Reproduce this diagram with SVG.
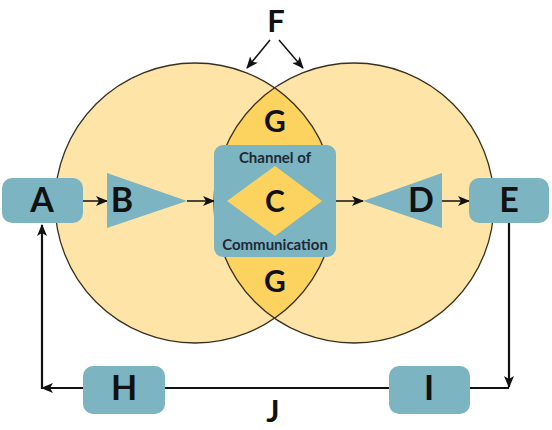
<svg xmlns="http://www.w3.org/2000/svg" width="552" height="430" viewBox="0 0 552 430">
<style>
.box{fill:#7db4c1}
.circ{fill:#fee5a7}
.lens{fill:#fcd35e}
.outline{fill:none;stroke:#3a3020;stroke-width:1.3}
.lbl{font-family:Lato,"Liberation Sans",sans-serif;font-weight:700;fill:#111;text-anchor:middle}
.big{font-size:34px}
.edge{font-size:31px}
.mid{font-size:30px}
.small{font-family:Lato,"Liberation Sans",sans-serif;font-weight:700;font-size:15px;fill:#1c2a38;text-anchor:middle}
.con{fill:none;stroke:#111;stroke-width:2.2}
.thin{fill:none;stroke:#111;stroke-width:1.5}
</style>
<defs>
<marker id="ah" viewBox="0 0 12 10" refX="11" refY="5" markerWidth="12" markerHeight="10" markerUnits="userSpaceOnUse" orient="auto">
<path d="M0,0 L12,5 L0,10 L3,5 z" fill="#111"/>
</marker>
</defs>
<g id="circles">
<circle class="circ" cx="195" cy="203" r="140"/>
<circle class="circ" cx="354" cy="203" r="140"/>
<path class="lens" d="M274.5,88 A140,140 0 0 1 274.5,318 A140,140 0 0 1 274.5,88 Z"/>
<circle class="outline" cx="195" cy="203" r="140"/>
<circle class="outline" cx="354" cy="203" r="140"/>
</g>
<g id="connectors">
<line class="thin" x1="270" y1="40" x2="247" y2="68" marker-end="url(#ah)"/>
<line class="thin" x1="279" y1="40" x2="303" y2="68" marker-end="url(#ah)"/>
<line class="thin" x1="83" y1="201" x2="107" y2="201" marker-end="url(#ah)"/>
<line class="thin" x1="187" y1="201" x2="214" y2="201" marker-end="url(#ah)"/>
<line class="thin" x1="336" y1="201" x2="363" y2="201" marker-end="url(#ah)"/>
<line class="thin" x1="442" y1="201" x2="469" y2="201" marker-end="url(#ah)"/>
<line class="con" x1="509" y1="223" x2="509" y2="387" marker-end="url(#ah)"/>
<polyline class="con" points="509,388 470,388"/>
<line class="con" x1="389" y1="388" x2="165" y2="388"/>
<polyline class="con" points="83,388 42,388" marker-end="url(#ah)"/>
<line class="con" x1="42" y1="389" x2="42" y2="225" marker-end="url(#ah)"/>
</g>
<g id="nodeF"><text class="lbl edge" x="276" y="32">F</text></g>
<g id="nodeG1"><text class="lbl mid" x="275" y="132">G</text></g>
<g id="nodeG2"><text class="lbl mid" x="275" y="292">G</text></g>
<g id="nodeA">
<rect class="box" x="2" y="178" width="81" height="45" rx="10"/>
<text class="lbl big" x="42" y="212">A</text>
</g>
<g id="nodeB">
<polygon class="box" points="107,173 187,201 107,228"/>
<text class="lbl big" x="122" y="212">B</text>
</g>
<g id="nodeC">
<rect class="box" x="214" y="145" width="122" height="112" rx="9"/>
<polygon class="lens" points="227,201 275,166 322,201 275,236"/>
<text class="small" x="275" y="163">Channel of</text>
<text class="small" x="275" y="250">Communication</text>
<text class="lbl mid" x="275" y="212">C</text>
</g>
<g id="nodeD">
<polygon class="box" points="442,173 363,201 442,228"/>
<text class="lbl big" x="421" y="212">D</text>
</g>
<g id="nodeE">
<rect class="box" x="469" y="178" width="80" height="45" rx="10"/>
<text class="lbl big" x="509" y="212">E</text>
</g>
<g id="nodeH">
<rect class="box" x="83" y="366" width="82" height="48" rx="10"/>
<text class="lbl big" x="124" y="400">H</text>
</g>
<g id="nodeI">
<rect class="box" x="389" y="366" width="81" height="48" rx="10"/>
<text class="lbl big" x="429" y="400">I</text>
</g>
<g id="nodeJ"><text class="lbl edge" x="273" y="422">J</text></g>
</svg>
